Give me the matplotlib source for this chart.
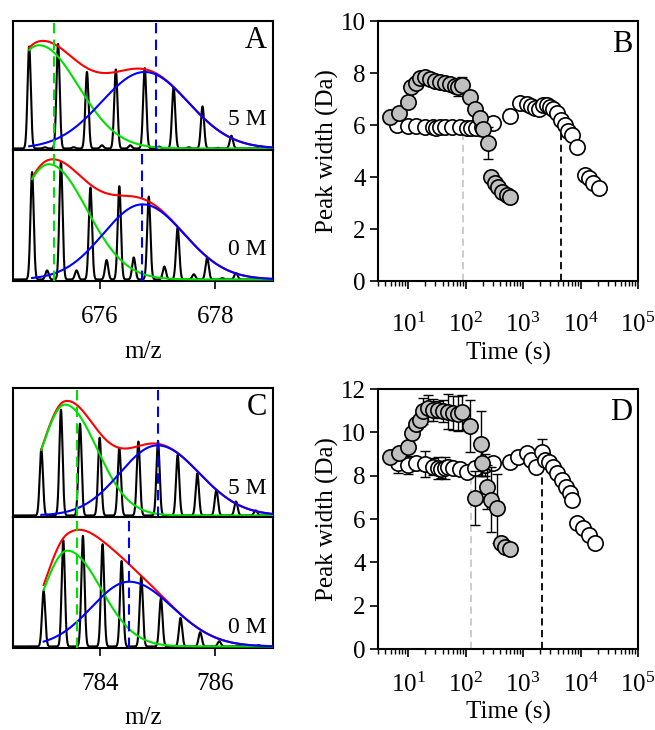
import numpy as np
import matplotlib
matplotlib.use("Agg")
import matplotlib.pyplot as plt
from matplotlib.ticker import LogLocator, NullFormatter

plt.rcParams["font.family"] = ["Liberation Serif", "DejaVu Serif"]
plt.rcParams["mathtext.fontset"] = "custom"
plt.rcParams["mathtext.rm"] = "Liberation Serif"
plt.rcParams["mathtext.it"] = "Liberation Serif:italic"

# === Spectra (m/z, relative intensity) ===
A_TOP_MZ = [674.78, 675.28, 675.78, 676.28, 676.78, 677.28, 677.78, 678.28, 678.78,
            675.05, 675.55, 676.04, 676.53, 677.03, 677.54, 678.04]
A_TOP_INT = [0.80, 0.82, 0.60, 0.62, 0.63, 0.48, 0.33, 0.10, 0.02,
             0.01, 0.01, 0.025, 0.025, 0.015, 0.01, 0.005]
A_BOT_MZ = [674.83, 675.33, 675.84, 676.34, 676.85, 677.35, 677.86, 678.36, 678.87,
            675.09, 675.60, 676.12, 676.59, 677.12, 677.63, 678.12]
A_BOT_INT = [0.83, 0.91, 0.71, 0.72, 0.64, 0.40, 0.17, 0.05, 0.005,
             0.07, 0.07, 0.15, 0.17, 0.10, 0.04, 0.01]
C_TOP_MZ = [782.99, 783.33, 783.66, 784.00, 784.34, 784.67, 785.01, 785.35, 785.69,
            786.02, 786.36, 786.70]
C_TOP_INT = [0.52, 0.83, 0.72, 0.61, 0.53, 0.58, 0.58, 0.475, 0.33, 0.20, 0.11, 0.04]
C_BOT_MZ = [783.03, 783.37, 783.71, 784.05, 784.38, 784.72, 785.06, 785.40, 785.74,
            786.07, 786.41, 786.75]
C_BOT_INT = [0.43, 0.82, 0.855, 0.79, 0.66, 0.54, 0.37, 0.22, 0.11, 0.04, 0.01, 0.01]

# === Fitted components: centre, height, left width, right width ===
A_TOP_GREEN = (674.95, 0.81, 0.55, 0.68)
A_TOP_BLUE = (676.78, 0.60, 0.75, 0.75)
A_BOT_GREEN = (675.12, 0.89, 0.55, 0.66)
A_BOT_BLUE = (676.74, 0.58, 0.68, 0.72)
C_TOP_GREEN = (783.40, 0.87, 0.40, 0.55)
C_TOP_BLUE = (785.00, 0.55, 0.65, 0.72)
C_BOT_GREEN = (783.44, 0.74, 0.40, 0.58)
C_BOT_BLUE = (784.51, 0.50, 0.65, 0.75)

# centroid markers (dashed lines)
A_GREEN_LINE = 675.21
A_BLUE_LINES = [676.97, 676.74]
C_GREEN_LINE = 783.61
C_BLUE_LINES = [785.01, 784.51]

# === Peak width vs time ===
B_GREY_T = [4.8, 6.9, 9.8, 11.4, 14, 15.9, 19.5, 23.9, 29, 35.7, 43.6, 53, 65, 74, 87,
            119, 145, 177, 204, 245, 282, 324, 370, 437, 516, 588]
B_GREY_W = [6.30, 6.45, 6.90, 7.47, 7.63, 7.80, 7.83, 7.76, 7.70, 7.66, 7.63, 7.58, 7.50,
            7.45, 7.54, 7.09, 6.62, 6.26, 5.83, 5.30, 4.01, 3.78, 3.63, 3.43, 3.31, 3.24]
B_GREY_ERR = [0, 0, 0.15, 0.15, 0, 0.12, 0, 0, 0, 0, 0, 0, 0.15, 0.35, 0.3,
              0.2, 0, 0, 0.25, 0.62, 0, 0, 0, 0, 0, 0]
B_OPEN_T = [6.5, 9.8, 14, 19.6, 27, 31, 35.7, 43.6, 57, 79, 104, 126, 154, 190, 302,
            590, 883, 1150, 1400, 1620, 1920, 2250, 2580, 2940, 3360, 3840, 4520,
            5370, 6120, 7000, 8720, 12000, 13800, 16700, 21200]
B_OPEN_W = [6.00, 5.96, 5.96, 5.94, 5.93, 5.90, 5.91, 5.93, 5.93, 5.93, 5.87, 5.87, 5.87,
            5.93, 6.06, 6.35, 6.85, 6.81, 6.73, 6.64, 6.60, 6.77, 6.77, 6.70, 6.60, 6.45,
            6.19, 6.00, 5.78, 5.62, 5.17, 4.08, 3.95, 3.76, 3.57]
B_OPEN_ERR = [0] * 15 + [0.25] + [0] * 19
B_LINES = [(90.6, 5.8, "#c8c8c8"), (4520, 5.8, "black")]

D_GREY_T = [4.8, 6.9, 9.8, 11.7, 14, 15.9, 18.1, 22.3, 27.3, 33.5, 40.7, 50, 60, 74, 87,
            119, 145, 185, 196, 232, 282, 359, 412, 480, 588]
D_GREY_W = [8.88, 9.04, 9.31, 9.96, 10.39, 10.58, 11.0, 11.12, 11.04, 11.04, 11.0, 10.96,
            10.89, 10.86, 10.92, 10.27, 6.96, 9.47, 8.6, 7.47, 6.88, 6.49, 4.9, 4.72, 4.6]
D_GREY_ERR = [0, 0, 0, 0, 0.15, 0.3, 0.6, 0.6, 0.5, 0.4, 0.5, 0.8, 0.8, 0.8, 0.8,
              1.2, 1.25, 1.5, 0.6, 1.0, 1.5, 1.6, 0, 0, 0]
D_OPEN_T = [6.7, 9.8, 14, 19.5, 27, 33.5, 38, 43.6, 50, 60, 79, 108, 145, 217, 302,
            590, 825, 1150, 1400, 1680, 2100, 2400, 2850, 3360, 3940, 4700, 5580,
            6560, 7250, 8720, 11200, 14200, 17800]
D_OPEN_W = [8.57, 8.50, 8.57, 8.53, 8.42, 8.34, 8.30, 8.34, 8.42, 8.34, 8.30, 8.19, 8.34,
            8.50, 8.57, 8.65, 8.85, 9.04, 8.73, 8.42, 9.11, 8.73, 8.65, 8.42, 8.11, 7.80,
            7.49, 7.19, 6.88, 5.80, 5.57, 5.26, 4.90]
D_OPEN_ERR = [0.45, 0.4, 0.3, 0.6, 0.4, 0.5, 0.4, 0.5, 0.3, 0, 0, 0, 0.3, 0.5, 0,
              0, 0, 0, 0, 0, 0.6, 0.3, 0, 0, 0, 0, 0, 0, 0, 0.2, 0, 0, 0]
D_LINES = [(122, 8.3, "#c8c8c8"), (2100, 8.6, "black")]

FS = 18


def bigauss(x, c, h, sl, sr):
    s = np.where(x < c, sl, sr)
    return h * np.exp(-(x - c) ** 2 / (2 * s ** 2))


def draw_spectrum(ax, xlim, mz, inten, green, blue, label, label_y):
    x = np.linspace(xlim[0], xlim[1], 4000)
    y = np.zeros_like(x)
    for p, h in zip(mz, inten):
        y += h * np.exp(-(x - p) ** 2 / (2 * 0.028 ** 2))
    ax.plot(x, y, color="black", lw=1.5, zorder=2)

    xf = x[x >= min(mz)]
    g = bigauss(xf, *green)
    b = bigauss(xf, *blue)
    ax.plot(xf, g + b, color="red", lw=1.5, zorder=3)
    ax.plot(xf, g, color="#00e000", lw=1.5, zorder=4)
    ax.plot(xf, b, color="blue", lw=1.5, zorder=5)

    ax.set_xlim(xlim)
    ax.set_ylim(-0.012, 1.0)
    ax.set_yticks([])
    ax.text(0.975, label_y, label, transform=ax.transAxes, ha="right", va="baseline",
            fontsize=17)
    for s in ax.spines.values():
        s.set_linewidth(1.5)


def spectra_panel(fig, top, xlim, ticks, top_data, bot_data, green_line, blue_lines,
                  letter, label_ys):
    # top = figure fraction of the upper edge, two stacked halves
    left, width = 13 / 655, 260 / 655
    h_top, h_bot = 129 / 730, 131 / 730
    ax1 = fig.add_axes([left, top - h_top, width, h_top])
    ax2 = fig.add_axes([left, top - h_top - h_bot, width, h_bot])
    draw_spectrum(ax1, xlim, *top_data, "5 M", label_ys[0])
    draw_spectrum(ax2, xlim, *bot_data, "0 M", label_ys[1])
    for ax, bl in zip([ax1, ax2], blue_lines):
        ax.axvline(green_line, color="#00e000", ls=(0, (5, 3)), lw=1.5, zorder=6)
        ax.axvline(bl, color="blue", ls=(0, (5, 3)), lw=1.5, zorder=6)
    ax1.set_xticks([])
    ax2.set_xticks(ticks)
    ax2.tick_params(axis="x", direction="out", length=6, width=1.2, labelsize=FS, pad=12)
    ax2.set_xlabel("m/z", fontsize=FS, labelpad=9)
    ax1.text(0.977, 0.96, letter, transform=ax1.transAxes, ha="right", va="top",
             fontsize=22)


def width_panel(fig, bottom, grey, opn, lines, ymax, letter, pad):
    ax = fig.add_axes([378 / 655, bottom, 260 / 655, 260 / 730])
    ot, ow, oe = opn
    gt, gw, ge = grey
    ax.errorbar(ot, ow, yerr=oe, fmt="none", ecolor="black", elinewidth=1, capsize=3.5,
                capthick=1, zorder=2)
    ax.plot(ot, ow, "o", ms=11, mfc="white", mec="black", mew=1.2, zorder=3)
    ax.errorbar(gt, gw, yerr=ge, fmt="none", ecolor="black", elinewidth=1, capsize=3.5,
                capthick=1, zorder=4)
    ax.plot(gt, gw, "o", ms=11, mfc="#c0c0c0", mec="black", mew=1.2, zorder=5)
    for t, top, col in lines:
        ax.plot([t, t], [0, top], color=col, ls=(0, (4, 2.5)), lw=1.3, zorder=1)

    ax.set_xscale("log")
    ax.set_xlim(3, 1e5)
    ax.set_ylim(0, ymax)
    ax.set_yticks(np.arange(0, ymax + 1, 2))
    ax.xaxis.set_major_locator(LogLocator(base=10, numticks=10))
    ax.xaxis.set_minor_locator(LogLocator(base=10, subs=np.arange(2, 10), numticks=20))
    ax.xaxis.set_minor_formatter(NullFormatter())
    ax.tick_params(which="major", direction="out", length=6, width=1.2, labelsize=FS)
    ax.tick_params(axis="x", which="major", pad=pad)
    ax.tick_params(which="minor", direction="out", length=3.5, width=1)
    ax.tick_params(axis="y", pad=3)
    ax.set_xlabel("Time (s)", fontsize=FS, labelpad=3)
    ax.set_ylabel("Peak width (Da)", fontsize=FS, labelpad=1)
    for s in ax.spines.values():
        s.set_linewidth(1.5)
    ax.text(0.977, 0.965, letter, transform=ax.transAxes, ha="right", va="top", fontsize=22)


def main():
    fig = plt.figure(figsize=(6.55, 7.3), dpi=100)

    # === A / B ===
    spectra_panel(fig, 1 - 21 / 730, (674.5, 679.0), [676, 678],
                  (A_TOP_MZ, A_TOP_INT, A_TOP_GREEN, A_TOP_BLUE),
                  (A_BOT_MZ, A_BOT_INT, A_BOT_GREEN, A_BOT_BLUE),
                  A_GREEN_LINE, A_BLUE_LINES, "A", (0.195, 0.2))
    width_panel(fig, 1 - 281 / 730, (B_GREY_T, B_GREY_W, B_GREY_ERR),
                (B_OPEN_T, B_OPEN_W, B_OPEN_ERR), B_LINES, 10, "B", 17)

    # === C / D ===
    spectra_panel(fig, 1 - 388 / 730, (782.5, 787.0), [784, 786],
                  (C_TOP_MZ, C_TOP_INT, C_TOP_GREEN, C_TOP_BLUE),
                  (C_BOT_MZ, C_BOT_INT, C_BOT_GREEN, C_BOT_BLUE),
                  C_GREEN_LINE, C_BLUE_LINES, "C", (0.18, 0.115))
    width_panel(fig, 1 - 649 / 730, (D_GREY_T, D_GREY_W, D_GREY_ERR),
                (D_OPEN_T, D_OPEN_W, D_OPEN_ERR), D_LINES, 12, "D", 11)

    fig.savefig("out.png", dpi=100)
    plt.close(fig)


if __name__ == "__main__":
    main()
